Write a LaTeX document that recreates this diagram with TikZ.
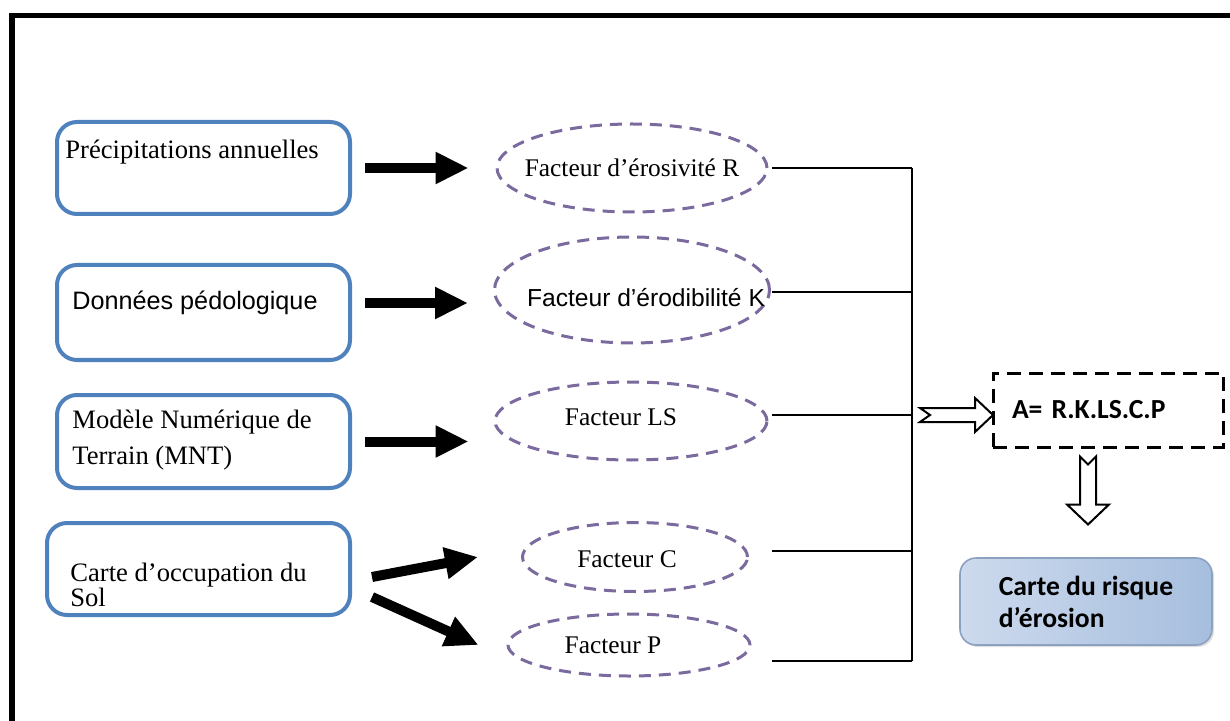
\documentclass[tikz,border=0pt]{standalone}
\usepackage{fontspec}
\setmainfont{Liberation Serif}
\newfontfamily\arialfont{Liberation Sans}
\newfontfamily\calibrifont{Carlito}
\usetikzlibrary{arrows.meta}
\usetikzlibrary{shapes.geometric}
\usetikzlibrary{calc}
\usetikzlibrary{shadows}

\definecolor{boxblue}{RGB}{79,129,189}
\definecolor{ellpurple}{RGB}{122,106,158}
\definecolor{reslight}{RGB}{232,238,248}
\definecolor{resmid}{RGB}{205,218,237}
\definecolor{resdark}{RGB}{166,190,222}
\definecolor{resedge}{RGB}{140,160,192}

\begin{document}
\begin{tikzpicture}[x=0.5pt,y=-0.5pt,
  inbox/.style={draw=boxblue, line width=2pt, rounded corners=10pt, minimum width=146.5pt, minimum height=46pt, inner sep=0pt},
  intext/.style={anchor=west, inner sep=0pt, align=left, font=\fontsize{13.3}{16}\selectfont},
  factor/.style={ellipse, draw=ellpurple, line width=1.5pt, dash pattern=on 6pt off 4pt, inner sep=0pt},
  ftext/.style={inner sep=0pt, font=\fontsize{12.7}{15}\selectfont},
  fatarrow/.style={line width=5pt, -{Triangle[length=16.5pt,width=15pt]}},
  busline/.style={line width=0.8pt},
  hollow/.style={draw, line width=1pt, fill=white, line join=miter},
  calibold/.style={font=\calibrifont\bfseries\fontsize{13.8}{16}\selectfont}
]
\useasboundingbox (0,0) rectangle (1230,721);

% frame
\draw[line width=2.75pt] (12,721) -- (12,15.5) -- (1230,15.5);

% input data
\node[inbox] (b1) at (203.5,168) {};
\node[inbox, minimum height=47.5pt] (b2) at (203.5,312.5) {};
\node[inbox, minimum height=46.5pt] (b3) at (203.5,441.5) {};
\node[inbox, minimum width=151.5pt] (b4) at (198.5,569) {};

\node[intext] (t1) at (65,152) {Précipitations annuelles};
\node[intext, font=\arialfont\fontsize{12.6}{15}\selectfont] (t2) at (72,303) {Données pédologique};
\node[intext, font=\fontsize{13.3}{18}\selectfont] (t3) at (72,440) {Modèle Numérique de\\Terrain (MNT)};
\node[intext, font=\fontsize{13.3}{12.5}\selectfont] (t4) at (70,584.5) {Carte d’occupation du\\Sol};

% factors
\node[factor, minimum width=135pt, minimum height=44pt, label={[ftext]center:Facteur d’érosivité R}] (fR) at (632,168) {};
\node[factor, minimum width=137.5pt, minimum height=53pt, label={[ftext, font=\arialfont\fontsize{12.3}{15}\selectfont, xshift=7pt, yshift=-4pt]center:Facteur d’érodibilité K}] (fK) at (632,290) {};
\node[factor, minimum width=136pt, minimum height=39pt, label={[ftext, xshift=-5pt, yshift=2pt]center:Facteur LS}] (fLS) at (631,421) {};
\node[factor, minimum width=112.5pt, minimum height=34.5pt, label={[ftext, xshift=-4pt, yshift=-1pt]center:Facteur C}] (fC) at (635,557) {};
\node[factor, minimum width=121pt, minimum height=31pt, label={[ftext, xshift=-8pt]center:Facteur P}] (fP) at (629,645) {};

% arrows data -> factors
\draw[fatarrow] ($(b1.east)+(13,0)$) -- ($(fR.west)+(-27,0)$);
\draw[fatarrow] ($(b2.east)+(13,-9.5)$) -- ($(fK.west)+(-25,13)$);
\draw[fatarrow] ($(b3.east)+(13,0)$) -- ($(fLS.west)+(-25,20.5)$);
\draw[fatarrow] ($(b4.east)+(20,8)$) -- ($(fC.west)+(-43,0)$);
\draw[fatarrow] ($(b4.east)+(20,28)$) -- ($(fP.west)+(-28,0)$);

% collecting lines
\coordinate (jR) at (912,168);
\coordinate (jK) at (912,292);
\coordinate (jLS) at (912,415);
\coordinate (jC) at (912,551);
\coordinate (jP) at (912,661);
\foreach \n in {R,K,LS,C,P}
  \draw[busline] (j\n) -- ++(-140,0);
\draw[busline] (jR) -- (jP);

% equation
\node[draw, line width=1.5pt, dash pattern=on 7pt off 4pt, calibold, text width=96pt, inner xsep=9.5pt, minimum height=37pt, align=left] (formule) at (1108,410) {A= R.K.LS.C.P};
\draw[hollow] ($(jLS)+(8,-7)$) -- ++(55,0) -- ++(0,-10) -- ++(18,17) -- ++(-18,17) -- ++(0,-10) -- ++(-55,0) -- ++(10,-7) -- cycle;

% result
\node[draw=resedge, line width=0.8pt, rounded corners=8pt, left color=resmid, middle color=reslight, right color=resdark, calibold, align=left, minimum width=126pt, minimum height=43.5pt, drop shadow={opacity=0.25, shadow xshift=1pt, shadow yshift=-1pt}] (resultat) at (1086,601.5) {Carte du risque\\d’érosion};
\draw[hollow] ($(formule.south)+(-28,8)$) -- ++(8,8) -- ++(8,-8) -- ++(0,48) -- ++(13,0) -- ++(-21,20) -- ++(-21,-20) -- ++(13,0) -- cycle;
\end{tikzpicture}
\end{document}
